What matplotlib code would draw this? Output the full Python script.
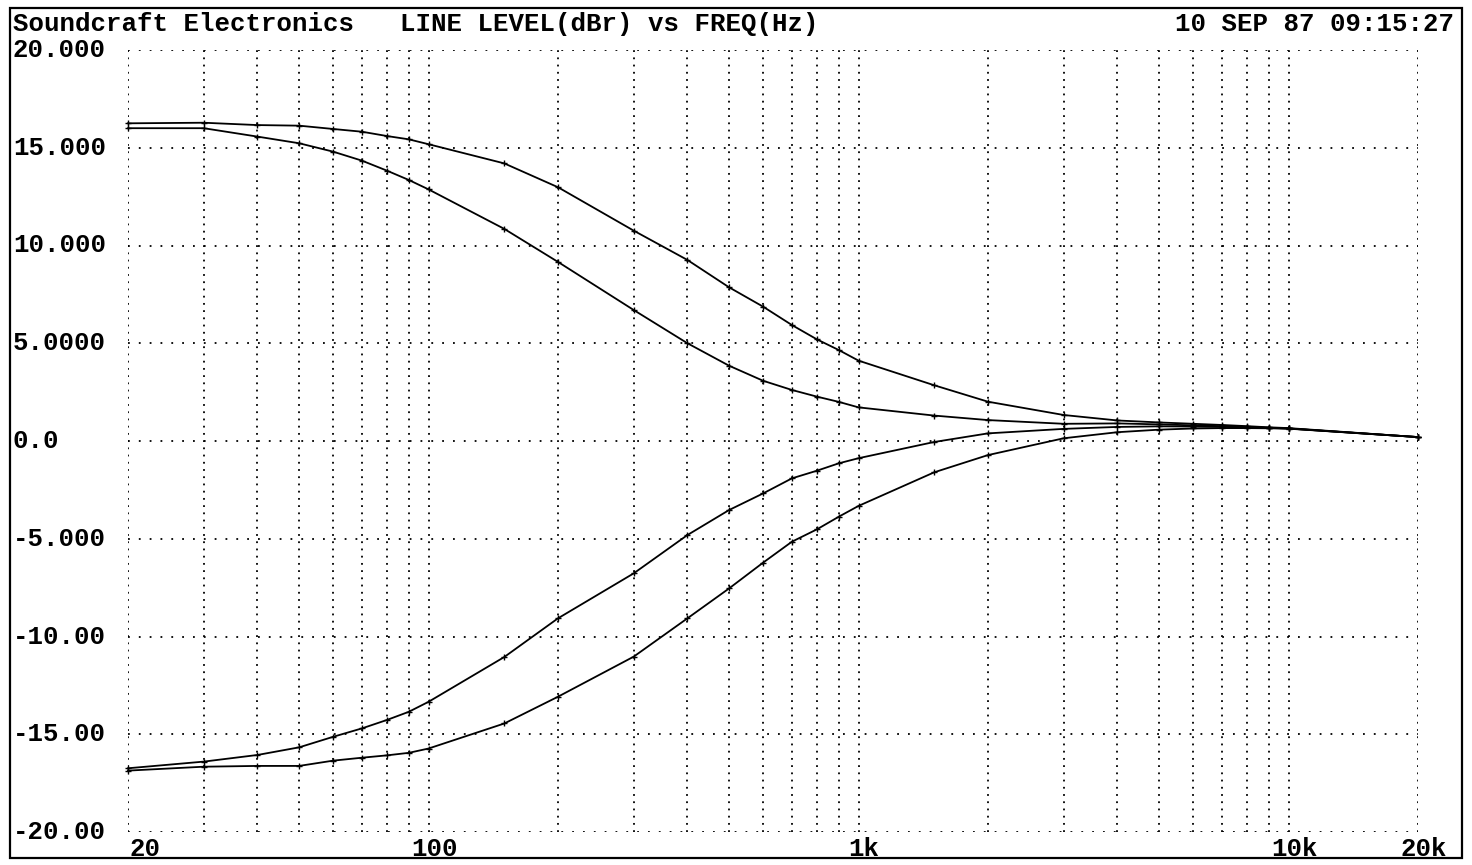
import matplotlib
matplotlib.use("Agg")
import matplotlib.pyplot as plt
from matplotlib.patches import Rectangle
from matplotlib.transforms import blended_transform_factory

# ---- data ----
freq = [20, 30, 40, 50, 60, 70, 80, 90, 100, 150, 200, 300, 400, 500, 600, 700, 800, 900,
        1000, 1500, 2000, 3000, 4000, 5000, 6000, 7000, 8000, 9000, 10000, 20000]
boost_a = [16.25, 16.28, 16.16, 16.13, 15.96, 15.82, 15.6, 15.43, 15.18, 14.2, 12.98, 10.76,
           9.26, 7.86, 6.87, 5.93, 5.2, 4.65, 4.11, 2.85, 2.01, 1.33, 1.05, 0.95, 0.88, 0.82,
           0.76, 0.7, 0.66, 0.2]
boost_b = [16.0, 16.0, 15.57, 15.23, 14.8, 14.34, 13.83, 13.35, 12.87, 10.85, 9.16, 6.7, 5.0,
           3.85, 3.08, 2.61, 2.27, 2.0, 1.72, 1.3, 1.07, 0.88, 0.9, 0.85, 0.8, 0.76, 0.72,
           0.68, 0.64, 0.2]
cut_c = [-16.74, -16.4, -16.06, -15.67, -15.13, -14.7, -14.27, -13.85, -13.34, -11.05, -9.07,
         -6.77, -4.81, -3.53, -2.68, -1.91, -1.52, -1.14, -0.88, -0.05, 0.39, 0.62, 0.72, 0.75,
         0.74, 0.72, 0.7, 0.67, 0.64, 0.2]
cut_d = [-16.86, -16.66, -16.62, -16.62, -16.35, -16.2, -16.08, -15.95, -15.73, -14.45,
         -13.08, -11.03, -9.07, -7.54, -6.22, -5.15, -4.52, -3.87, -3.32, -1.6, -0.72, 0.14,
         0.45, 0.58, 0.64, 0.66, 0.66, 0.65, 0.63, 0.2]

ytick_vals = [20, 15, 10, 5, 0, -5, -10, -15, -20]
ytick_labels = ["20.000", "15.000", "10.000", "5.0000", "0.0", "-5.000", "-10.00", "-15.00", "-20.00"]
xtick_vals = [20, 100, 1000, 10000, 20000]
xtick_labels = ["20", "100", "1k", "10k", "20k"]
xgrid_vals = [20, 30, 40, 50, 60, 70, 80, 90, 100, 200, 300, 400, 500, 600, 700, 800, 900,
              1000, 2000, 3000, 4000, 5000, 6000, 7000, 8000, 9000, 10000, 20000]

title_left = "Soundcraft Electronics"
title_mid = "LINE LEVEL(dBr) vs FREQ(Hz)"
title_right = "10 SEP 87 09:15:27"

# ---- figure ----
W, H = 1472, 865
fig = plt.figure(figsize=(W / 100, H / 100), dpi=100)
fig.patch.set_facecolor("white")

FONT = dict(family=["Liberation Mono", "DejaVu Sans Mono"], weight="bold", size=18.5, color="black")

x0, x1, ytop, ybot = 128, 1418, 50, 832
ax = fig.add_axes([x0 / W, (H - ybot) / H, (x1 - x0) / W, (ybot - ytop) / H])
ax.set_xscale("log")
ax.set_xlim(20, 20000)
ax.set_ylim(-20, 20)
for s in ax.spines.values():
    s.set_visible(False)
ax.set_xticks([])
ax.set_yticks([])
ax.minorticks_off()

# grid
for f in xgrid_vals:
    ax.axvline(f, color="black", lw=1.3, linestyle=(0, (1, 3)), zorder=1)
for v in ytick_vals:
    ax.axhline(v, color="black", lw=1.3, linestyle=(0, (1, 5)), zorder=1)

# curves
for series in (boost_a, boost_b, cut_c, cut_d):
    ax.plot(freq, series, color="black", lw=1.3, marker="+", markersize=4,
            markeredgewidth=1.0, zorder=3, clip_on=False)

# y labels (left aligned near frame)
tr_y = blended_transform_factory(fig.transFigure, ax.transData)
for v, lab in zip(ytick_vals, ytick_labels):
    ax.text(13 / W, v, lab, transform=tr_y, ha="left", va="center", **FONT)

# x labels
tr_x = blended_transform_factory(ax.transData, fig.transFigure)
for f, lab in zip(xtick_vals, xtick_labels):
    ha = "left" if lab == "20" else "center"
    xf = f * 1.01 if lab == "20" else f * 1.03
    ax.text(xf, 1 - 849 / H, lab, transform=tr_x, ha=ha, va="center", **FONT)

# title texts
fig.text(13 / W, 1 - 24 / H, title_left, ha="left", va="center", **FONT)
fig.text(400 / W, 1 - 24 / H, title_mid, ha="left", va="center", **FONT)
fig.text(1454 / W, 1 - 24 / H, title_right, ha="right", va="center", **FONT)

# outer frame
fig.add_artist(Rectangle((10 / W, (H - 858) / H), 1452 / W, 850 / H,
                         transform=fig.transFigure, fill=False, edgecolor="black", lw=1.6))

fig.savefig("out.png", dpi=100, facecolor="white")
